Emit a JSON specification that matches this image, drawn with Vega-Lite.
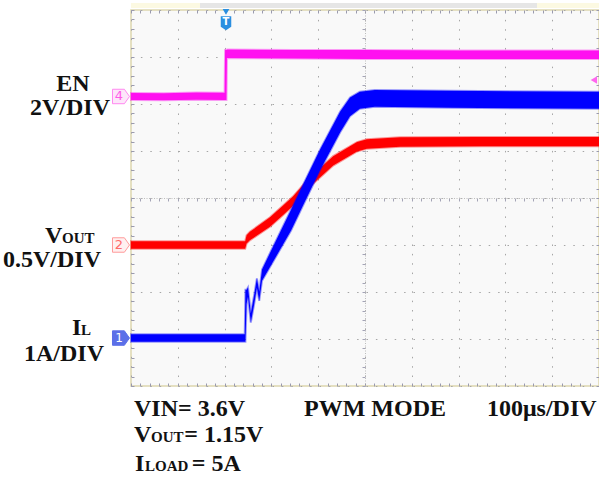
{
  "$schema": "https://vega.github.io/schema/vega-lite/v6.json",
  "width": 468,
  "height": 376,
  "autosize": {"type": "none"},
  "padding": {"left": 131, "top": 10, "right": 0, "bottom": 91},
  "background": "white",
  "config": {
    "view": {"fill": "#f9f9f9", "stroke": "#ddd6ae", "strokeWidth": 1.5},
    "axis": {"labels": false, "title": null, "domain": false, "grid": false}
  },
  "datasets": {
    "traces": [
      {"s": "EN", "t": 0, "lo": 6.085, "hi": 6.235},
      {"s": "EN", "t": 0.7, "lo": 6.08, "hi": 6.23},
      {"s": "EN", "t": 1.4, "lo": 6.09, "hi": 6.245},
      {"s": "EN", "t": 2.0, "lo": 6.085, "hi": 6.24},
      {"s": "EN", "t": 2.01, "lo": 6.085, "hi": 7.15},
      {"s": "EN", "t": 2.04, "lo": 6.085, "hi": 7.15},
      {"s": "EN", "t": 2.05, "lo": 6.98, "hi": 7.16},
      {"s": "EN", "t": 3.5, "lo": 6.97, "hi": 7.15},
      {"s": "EN", "t": 5.0, "lo": 6.96, "hi": 7.15},
      {"s": "EN", "t": 7.0, "lo": 6.96, "hi": 7.14},
      {"s": "EN", "t": 10, "lo": 6.96, "hi": 7.14},
      {"s": "VOUT", "t": 0, "lo": 2.92, "hi": 3.08},
      {"s": "VOUT", "t": 1.2, "lo": 2.92, "hi": 3.08},
      {"s": "VOUT", "t": 2.44, "lo": 2.92, "hi": 3.08},
      {"s": "VOUT", "t": 2.47, "lo": 3.03, "hi": 3.21},
      {"s": "VOUT", "t": 2.54, "lo": 3.1, "hi": 3.28},
      {"s": "VOUT", "t": 2.97, "lo": 3.39, "hi": 3.59},
      {"s": "VOUT", "t": 3.25, "lo": 3.64, "hi": 3.84},
      {"s": "VOUT", "t": 3.46, "lo": 3.83, "hi": 4.03},
      {"s": "VOUT", "t": 3.82, "lo": 4.24, "hi": 4.44},
      {"s": "VOUT", "t": 4.32, "lo": 4.69, "hi": 4.89},
      {"s": "VOUT", "t": 4.83, "lo": 4.99, "hi": 5.19},
      {"s": "VOUT", "t": 5.04, "lo": 5.05, "hi": 5.25},
      {"s": "VOUT", "t": 5.75, "lo": 5.09, "hi": 5.29},
      {"s": "VOUT", "t": 7.5, "lo": 5.1, "hi": 5.3},
      {"s": "VOUT", "t": 10, "lo": 5.1, "hi": 5.3},
      {"s": "IL", "t": 0, "lo": 0.94, "hi": 1.1},
      {"s": "IL", "t": 1.2, "lo": 0.94, "hi": 1.1},
      {"s": "IL", "t": 2.43, "lo": 0.94, "hi": 1.1},
      {"s": "IL", "t": 2.445, "lo": 0.94, "hi": 2.05},
      {"s": "IL", "t": 2.47, "lo": 1.75, "hi": 2.05},
      {"s": "IL", "t": 2.5, "lo": 1.9, "hi": 2.1},
      {"s": "IL", "t": 2.56, "lo": 1.35, "hi": 1.55},
      {"s": "IL", "t": 2.63, "lo": 1.73, "hi": 1.93},
      {"s": "IL", "t": 2.69, "lo": 2.09, "hi": 2.29},
      {"s": "IL", "t": 2.74, "lo": 1.81, "hi": 2.01},
      {"s": "IL", "t": 2.8, "lo": 2.24, "hi": 2.48},
      {"s": "IL", "t": 2.97, "lo": 2.53, "hi": 2.83},
      {"s": "IL", "t": 3.42, "lo": 3.31, "hi": 3.75},
      {"s": "IL", "t": 3.675, "lo": 3.84, "hi": 4.28},
      {"s": "IL", "t": 4.04, "lo": 4.59, "hi": 5.03},
      {"s": "IL", "t": 4.47, "lo": 5.4, "hi": 5.84},
      {"s": "IL", "t": 4.68, "lo": 5.74, "hi": 6.14},
      {"s": "IL", "t": 4.89, "lo": 5.9, "hi": 6.26},
      {"s": "IL", "t": 5.21, "lo": 5.94, "hi": 6.3},
      {"s": "IL", "t": 6.82, "lo": 5.92, "hi": 6.28},
      {"s": "IL", "t": 10, "lo": 5.9, "hi": 6.26}
    ],
    "strip": [
      {"a": 0, "b": 1.474, "k": "y"},
      {"a": 1.474, "b": 8.675, "k": "g"},
      {"a": 8.675, "b": 10, "k": "y"}
    ],
    "labels": [
      {"txt": "EN", "x": -1.239, "y": 6.277, "g": "bc"},
      {"txt": "2V/DIV", "x": -1.303, "y": 5.766, "g": "bc"},
      {"txt": "0.5V/DIV", "x": -1.688, "y": 2.532, "g": "bc"},
      {"txt": "1A/DIV", "x": -1.432, "y": 0.532, "g": "bc"},
      {"txt": "V", "x": -1.838, "y": 3.043, "g": "bl"},
      {"txt": "OUT", "x": -1.474, "y": 3.043, "g": "sl"},
      {"txt": "I", "x": -1.261, "y": 1.085, "g": "bl"},
      {"txt": "L", "x": -1.068, "y": 1.085, "g": "sl"},
      {"txt": "VIN= 3.6V", "x": 0.064, "y": -0.638, "g": "bl"},
      {"txt": "PWM MODE", "x": 3.697, "y": -0.638, "g": "bl"},
      {"txt": "100μs/DIV", "x": 7.607, "y": -0.638, "g": "bl"},
      {"txt": "V", "x": 0.064, "y": -1.191, "g": "bl"},
      {"txt": "OUT", "x": 0.427, "y": -1.191, "g": "sl"},
      {"txt": "= 1.15V", "x": 1.14, "y": -1.191, "g": "bl"},
      {"txt": "I", "x": 0.085, "y": -1.809, "g": "bl"},
      {"txt": "LOAD", "x": 0.299, "y": -1.809, "g": "sl"},
      {"txt": "= 5A", "x": 1.3, "y": -1.809, "g": "bl"}
    ]
  },
  "resolve": {"axis": {"x": "independent", "y": "independent"}, "scale": {"color": "independent", "fill": "independent", "stroke": "independent"}},
  "layer": [
    {
      "data": {"name": "traces"},
      "mark": {"type": "point", "opacity": 0},
      "encoding": {
        "x": {"field": "t", "type": "quantitative", "scale": {"domain": [0, 10], "nice": false, "zero": false},
          "axis": {"orient": "bottom", "values": [0,1,2,3,4,5,6,7,8,9,10], "grid": true, "ticks": false, "gridColor": "#a6a6a6", "gridDash": [1.5, 7.86], "gridWidth": 1}},
        "y": {"field": "lo", "type": "quantitative", "scale": {"domain": [0, 8], "nice": false, "zero": false},
          "axis": {"orient": "left", "values": [0,1,2,3,4,5,6,7,8], "grid": true, "ticks": false, "gridColor": "#a6a6a6", "gridDash": [1.5, 7.9], "gridWidth": 1}}
      }
    },
    {
      "data": {"name": "traces"},
      "mark": {"type": "point", "opacity": 0},
      "encoding": {
        "x": {"field": "t", "type": "quantitative",
          "axis": {"orient": "bottom", "values": [0,0.2,0.4,0.6,0.8,1,1.2,1.4,1.6,1.8,2,2.2,2.4,2.6,2.8,3,3.2,3.4,3.6,3.8,4,4.2,4.4,4.6,4.8,5,5.2,5.4,5.6,5.8,6,6.2,6.4,6.6,6.8,7,7.2,7.4,7.6,7.8,8,8.2,8.4,8.6,8.8,9,9.2,9.4,9.6,9.8,10], "ticks": true, "tickSize": -3, "tickColor": "#9a9aae"}},
        "y": {"field": "lo", "type": "quantitative",
          "axis": {"orient": "right", "values": [0,0.2,0.4,0.6,0.8,1,1.2,1.4,1.6,1.8,2,2.2,2.4,2.6,2.8,3,3.2,3.4,3.6,3.8,4,4.2,4.4,4.6,4.8,5,5.2,5.4,5.6,5.8,6,6.2,6.4,6.6,6.8,7,7.2,7.4,7.6,7.8,8], "ticks": true, "tickSize": -3, "tickColor": "#9a9aae"}}
      }
    },
    {
      "data": {"name": "traces"},
      "mark": {"type": "point", "opacity": 0},
      "encoding": {
        "x": {"field": "t", "type": "quantitative",
          "axis": {"orient": "top", "values": [0,0.2,0.4,0.6,0.8,1,1.2,1.4,1.6,1.8,2,2.2,2.4,2.6,2.8,3,3.2,3.4,3.6,3.8,4,4.2,4.4,4.6,4.8,5,5.2,5.4,5.6,5.8,6,6.2,6.4,6.6,6.8,7,7.2,7.4,7.6,7.8,8,8.2,8.4,8.6,8.8,9,9.2,9.4,9.6,9.8,10], "ticks": true, "tickSize": -3, "tickColor": "#9a9aae"}},
        "y": {"field": "lo", "type": "quantitative",
          "axis": {"orient": "left", "values": [0,0.2,0.4,0.6,0.8,1,1.2,1.4,1.6,1.8,2,2.2,2.4,2.6,2.8,3,3.2,3.4,3.6,3.8,4,4.2,4.4,4.6,4.8,5,5.2,5.4,5.6,5.8,6,6.2,6.4,6.6,6.8,7,7.2,7.4,7.6,7.8,8], "ticks": true, "tickSize": -3, "tickColor": "#9a9aae"}}
      }
    },
    {
      "data": {"name": "traces"},
      "mark": {"type": "point", "opacity": 0},
      "encoding": {
        "x": {"field": "t", "type": "quantitative",
          "axis": {"orient": "bottom", "offset": -188, "domain": true, "domainColor": "#bdbdbd", "domainDash": [1, 1.5], "domainWidth": 1, "values": [0,0.2,0.4,0.6,0.8,1,1.2,1.4,1.6,1.8,2,2.2,2.4,2.6,2.8,3,3.2,3.4,3.6,3.8,4,4.2,4.4,4.6,4.8,5,5.2,5.4,5.6,5.8,6,6.2,6.4,6.6,6.8,7,7.2,7.4,7.6,7.8,8,8.2,8.4,8.6,8.8,9,9.2,9.4,9.6,9.8,10], "ticks": true, "tickSize": 3, "tickColor": "#a4a4b6"}},
        "y": {"field": "lo", "type": "quantitative",
          "axis": {"orient": "left", "offset": -234, "domain": true, "domainColor": "#bdbdbd", "domainDash": [1, 1.5], "domainWidth": 1, "values": [0,0.2,0.4,0.6,0.8,1,1.2,1.4,1.6,1.8,2,2.2,2.4,2.6,2.8,3,3.2,3.4,3.6,3.8,4,4.2,4.4,4.6,4.8,5,5.2,5.4,5.6,5.8,6,6.2,6.4,6.6,6.8,7,7.2,7.4,7.6,7.8,8], "ticks": true, "tickSize": 3, "tickColor": "#a4a4b6"}}
      }
    },
    {
      "data": {"name": "strip"},
      "mark": {"type": "rect", "clip": false},
      "encoding": {
        "x": {"field": "a", "type": "quantitative", "axis": null},
        "x2": {"field": "b"},
        "y": {"datum": 8.043, "type": "quantitative", "axis": null},
        "y2": {"datum": 8.149},
        "color": {"field": "k", "type": "nominal", "legend": null, "scale": {"domain": ["y", "g"], "range": ["#fcf9e2", "#e6e6e6"]}}
      }
    },
    {
      "data": {"name": "traces"},
      "transform": [{"filter": "datum.s === 'EN'"}],
      "mark": {"type": "area", "interpolate": "linear", "color": "#ff10f0", "opacity": 1, "stroke": "#ff10f0", "strokeWidth": 2, "strokeOpacity": 0.4},
      "encoding": {
        "x": {"field": "t", "type": "quantitative", "axis": null},
        "y": {"field": "lo", "type": "quantitative", "axis": null},
        "y2": {"field": "hi"}
      }
    },
    {
      "data": {"name": "traces"},
      "transform": [{"filter": "datum.s === 'VOUT'"}],
      "mark": {"type": "area", "interpolate": "linear", "color": "#ff0000", "opacity": 1, "stroke": "#ff0000", "strokeWidth": 2, "strokeOpacity": 0.4},
      "encoding": {
        "x": {"field": "t", "type": "quantitative", "axis": null},
        "y": {"field": "lo", "type": "quantitative", "axis": null},
        "y2": {"field": "hi"}
      }
    },
    {
      "data": {"name": "traces"},
      "transform": [{"filter": "datum.s === 'IL'"}],
      "mark": {"type": "area", "interpolate": "linear", "color": "#0000ff", "opacity": 1, "stroke": "#0000ff", "strokeWidth": 2, "strokeOpacity": 0.4},
      "encoding": {
        "x": {"field": "t", "type": "quantitative", "axis": null},
        "y": {"field": "lo", "type": "quantitative", "axis": null},
        "y2": {"field": "hi"}
      }
    },
    {
      "data": {"values": [{"ch": "4", "lvl": 6.16}]},
      "mark": {"type": "point", "filled": true, "clip": false, "strokeWidth": 1, "shape": "M-1,-0.85L0.4,-0.85L1,0L0.4,0.85L-1,0.85Z", "size": 289, "opacity": 1, "fill": "#fde6fa", "stroke": "#ff88f0"},
      "encoding": {"x": {"datum": -0.214, "type": "quantitative", "axis": null}, "y": {"field": "lvl", "type": "quantitative", "axis": null}}
    },
    {
      "data": {"values": [{"ch": "2", "lvl": 3.0}]},
      "mark": {"type": "point", "filled": true, "clip": false, "strokeWidth": 1, "shape": "M-1,-0.85L0.4,-0.85L1,0L0.4,0.85L-1,0.85Z", "size": 289, "opacity": 1, "fill": "#fff0f0", "stroke": "#ff9a9a"},
      "encoding": {"x": {"datum": -0.214, "type": "quantitative", "axis": null}, "y": {"field": "lvl", "type": "quantitative", "axis": null}}
    },
    {
      "data": {"values": [{"ch": "1", "lvl": 1.02}]},
      "mark": {"type": "point", "filled": true, "clip": false, "strokeWidth": 1, "shape": "M-1,-0.85L0.4,-0.85L1,0L0.4,0.85L-1,0.85Z", "size": 289, "opacity": 1, "fill": "#5b6fe8", "stroke": "#5b6fe8"},
      "encoding": {"x": {"datum": -0.214, "type": "quantitative", "axis": null}, "y": {"field": "lvl", "type": "quantitative", "axis": null}}
    },
    {
      "data": {"values": [{"ch": "4", "lvl": 6.16}]},
      "mark": {"type": "text", "font": "DejaVu Sans", "fontSize": 13, "align": "center", "baseline": "middle", "dx": -2, "clip": false, "color": "#ff5ae8"},
      "encoding": {"x": {"datum": -0.214, "type": "quantitative", "axis": null}, "y": {"field": "lvl", "type": "quantitative", "axis": null}, "text": {"field": "ch"}}
    },
    {
      "data": {"values": [{"ch": "2", "lvl": 3.0}]},
      "mark": {"type": "text", "font": "DejaVu Sans", "fontSize": 13, "align": "center", "baseline": "middle", "dx": -2, "clip": false, "color": "#ff6a6a"},
      "encoding": {"x": {"datum": -0.214, "type": "quantitative", "axis": null}, "y": {"field": "lvl", "type": "quantitative", "axis": null}, "text": {"field": "ch"}}
    },
    {
      "data": {"values": [{"ch": "1", "lvl": 1.02}]},
      "mark": {"type": "text", "font": "DejaVu Sans", "fontSize": 12, "align": "center", "baseline": "middle", "dx": -2, "clip": false, "color": "#ffffff"},
      "encoding": {"x": {"datum": -0.214, "type": "quantitative", "axis": null}, "y": {"field": "lvl", "type": "quantitative", "axis": null}, "text": {"field": "ch"}}
    },
    {
      "data": {"values": [{"lbl": "T"}]},
      "mark": {"type": "point", "filled": true, "clip": false, "shape": "triangle-down", "size": 45, "color": "#2b8fe0", "opacity": 1},
      "encoding": {
        "x": {"datum": 2.03, "type": "quantitative", "axis": null},
        "y": {"datum": 7.96, "type": "quantitative", "axis": null}
      }
    },
    {
      "data": {"values": [{"lbl": "T"}]},
      "mark": {"type": "point", "filled": true, "clip": false, "shape": "M-0.75,-1L0.75,-1L0.75,0.5L0,1L-0.75,0.5Z", "size": 196, "color": "#2b8fe0", "opacity": 1},
      "encoding": {
        "x": {"datum": 2.03, "type": "quantitative", "axis": null},
        "y": {"datum": 7.72, "type": "quantitative", "axis": null}
      }
    },
    {
      "data": {"values": [{"lbl": "T"}]},
      "mark": {"type": "text", "font": "DejaVu Sans", "fontWeight": "bold", "fontSize": 10, "color": "white", "align": "center", "baseline": "middle", "clip": false},
      "encoding": {
        "x": {"datum": 2.03, "type": "quantitative", "axis": null},
        "y": {"datum": 7.74, "type": "quantitative", "axis": null},
        "text": {"field": "lbl"}
      }
    },
    {
      "data": {"values": [{"lvl": 6.51}]},
      "mark": {"type": "point", "filled": true, "clip": false, "shape": "triangle-left", "size": 55, "color": "#ff66ee", "opacity": 1},
      "encoding": {
        "x": {"datum": 9.89, "type": "quantitative", "axis": null},
        "y": {"field": "lvl", "type": "quantitative", "axis": null}
      }
    },
    {
      "data": {"name": "labels"},
      "transform": [{"filter": "datum.g === 'bc'"}],
      "mark": {"type": "text", "font": "Liberation Serif", "fontWeight": "bold", "fontSize": 24, "align": "center", "baseline": "alphabetic", "color": "#111111", "clip": false},
      "encoding": {
        "x": {"field": "x", "type": "quantitative", "axis": null},
        "y": {"field": "y", "type": "quantitative", "axis": null},
        "text": {"field": "txt"}
      }
    },
    {
      "data": {"name": "labels"},
      "transform": [{"filter": "datum.g === 'bl'"}],
      "mark": {"type": "text", "font": "Liberation Serif", "fontWeight": "bold", "fontSize": 24, "align": "left", "baseline": "alphabetic", "color": "#111111", "clip": false},
      "encoding": {
        "x": {"field": "x", "type": "quantitative", "axis": null},
        "y": {"field": "y", "type": "quantitative", "axis": null},
        "text": {"field": "txt"}
      }
    },
    {
      "data": {"name": "labels"},
      "transform": [{"filter": "datum.g === 'sl'"}],
      "mark": {"type": "text", "font": "Liberation Serif", "fontWeight": "bold", "fontSize": 15, "align": "left", "baseline": "alphabetic", "color": "#111111", "clip": false},
      "encoding": {
        "x": {"field": "x", "type": "quantitative", "axis": null},
        "y": {"field": "y", "type": "quantitative", "axis": null},
        "text": {"field": "txt"}
      }
    }
  ]
}
